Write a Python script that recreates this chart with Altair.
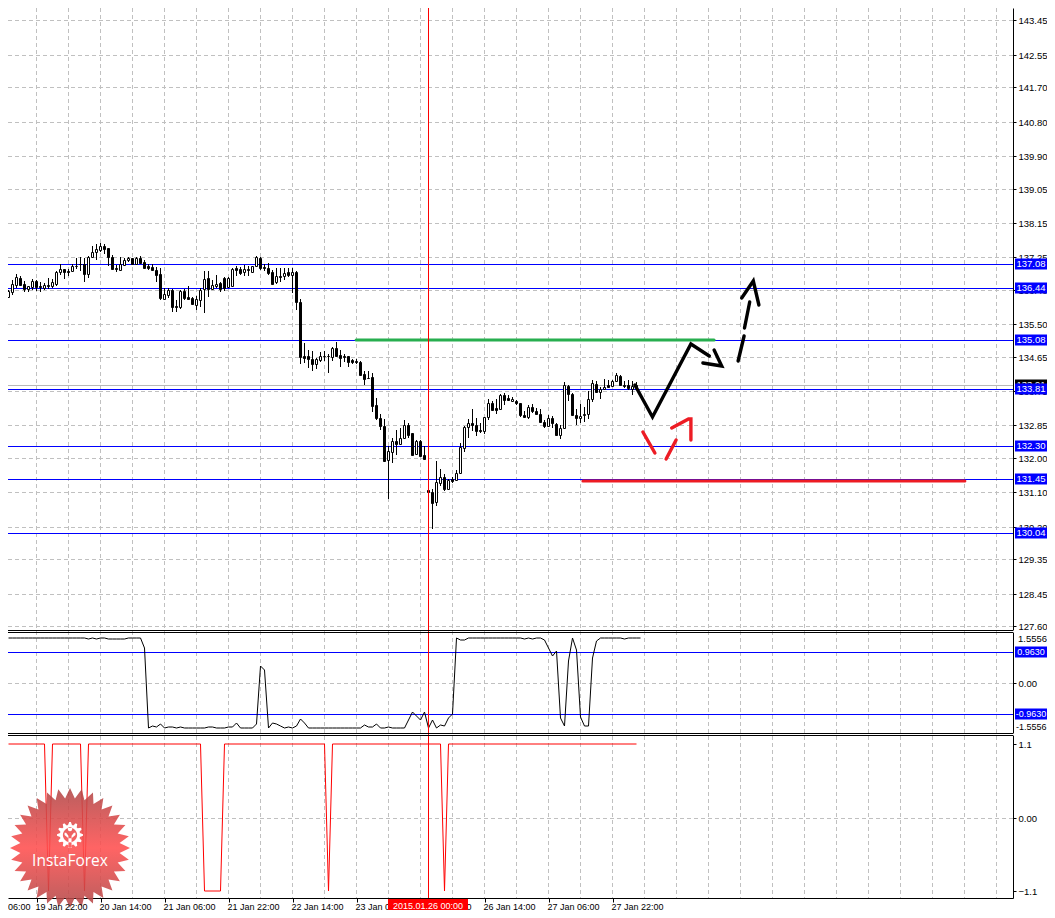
import math
import altair as alt
import pandas as pd

FIRST_BAR = -7
opens = [136.20,136.35,136.53,136.71,136.55,136.42,136.47,136.63,136.51,136.45,136.52,136.49,136.56,136.86,136.94,136.88,136.88,137.03,137.07,137.07,136.82,137.26,137.39,137.43,137.54,137.50,137.27,136.97,136.91,137.05,137.17,137.24,137.08,137.24,137.12,137.03,137.00,136.93,136.82,136.15,136.26,136.40,135.98,135.95,136.38,136.20,136.19,136.01,136.13,136.42,136.71,136.42,136.49,136.58,136.71,136.47,136.51,136.97,136.94,136.86,136.94,136.86,137.02,137.24,137.00,136.98,136.86,136.60,136.77,136.77,136.86,136.79,136.87,136.09,134.66,134.66,134.59,134.46,134.56,134.66,134.68,134.65,134.88,134.70,134.66,134.67,134.55,134.54,134.52,134.19,134.10,134.12,133.39,133.05,132.83,131.95,132.16,132.45,132.36,132.52,132.85,132.66,132.11,132.44,132.07,131.15,131.11,130.85,131.34,131.51,131.18,131.45,131.43,131.61,132.26,132.81,132.92,132.87,132.72,132.70,133.06,133.43,133.30,133.29,133.64,133.56,133.50,133.48,133.43,133.13,133.07,133.34,133.24,133.16,132.94,132.84,133.04,132.90,132.61,132.78,133.88,133.68,133.13,133.05,133.12,133.15,133.55,133.94,133.73,133.81,133.90,133.88,134.01,134.15,133.92,133.90,133.81,133.90]
highs = [136.40,136.66,136.82,136.75,136.62,136.51,136.68,136.65,136.60,136.58,136.71,136.68,136.88,137.07,136.94,136.94,137.07,137.23,137.26,137.23,137.29,137.55,137.60,137.62,137.60,137.50,137.31,137.06,137.26,137.24,137.26,137.24,137.26,137.29,137.18,137.07,137.08,137.00,136.96,136.44,136.44,136.42,136.14,136.40,136.42,136.49,136.20,136.23,136.45,136.88,136.89,136.66,136.80,136.60,136.73,136.73,136.96,137.01,137.00,137.06,137.01,137.03,137.29,137.27,137.08,137.10,136.91,136.97,136.97,136.97,136.97,136.97,136.88,136.16,135.00,134.82,134.79,134.62,134.77,134.80,134.71,134.91,135.04,134.82,134.71,134.68,134.59,134.60,134.54,134.27,134.28,134.23,133.58,133.16,133.03,132.31,132.52,132.72,132.77,132.98,132.92,132.66,132.46,132.47,132.31,131.15,131.18,131.91,131.71,131.57,131.45,131.49,131.69,132.39,132.84,133.03,133.27,133.05,132.92,133.08,133.55,133.49,133.53,133.66,133.71,133.65,133.59,133.52,133.43,133.22,133.38,133.41,133.31,133.27,133.00,133.12,133.10,132.92,132.85,133.99,133.92,133.69,133.27,133.40,133.32,133.75,134.03,134.01,133.86,134.07,134.05,134.05,134.21,134.16,134.01,134.05,134.01,133.99]
lows = [136.18,136.26,136.45,136.49,136.33,136.35,136.40,136.38,136.35,136.40,136.42,136.45,136.51,136.78,136.69,136.75,136.86,136.94,136.88,136.60,136.70,137.22,137.19,137.38,137.34,137.03,136.93,136.87,136.89,137.01,137.13,137.05,137.07,137.08,136.94,136.91,136.88,136.61,136.14,136.14,136.18,135.83,135.81,135.90,136.13,136.16,136.00,135.88,135.95,135.80,136.21,136.39,136.44,136.35,136.37,136.44,136.49,136.77,136.80,136.77,136.77,136.84,137.00,136.93,136.89,136.80,136.52,136.56,136.61,136.65,136.73,136.32,135.88,134.47,134.49,134.36,134.27,134.32,134.51,134.53,134.21,134.53,134.65,134.39,134.52,134.39,134.46,134.45,134.14,133.92,134.06,133.20,133.00,132.73,131.91,130.92,131.86,132.08,132.33,132.51,132.53,132.07,132.09,132.04,131.97,131.12,130.14,130.75,131.27,131.13,131.16,131.34,131.41,131.60,132.16,132.53,132.71,132.58,132.66,132.63,132.99,133.23,133.14,133.27,133.38,133.51,133.46,133.39,133.08,133.05,133.03,133.18,133.12,132.92,132.78,132.82,132.77,132.58,132.49,132.75,133.48,133.12,132.85,132.92,132.94,133.03,133.46,133.69,133.55,133.78,133.83,133.86,133.99,133.88,133.84,133.79,133.64,133.81]
closes = [136.37,136.56,136.73,136.53,136.43,136.49,136.62,136.47,136.46,136.53,136.49,136.61,136.86,136.94,136.87,136.87,137.03,137.01,137.07,136.82,137.26,137.40,137.47,137.54,137.48,137.26,136.94,136.94,137.07,137.17,137.23,137.07,137.23,137.10,136.98,136.96,136.91,136.80,136.18,136.29,136.40,135.96,135.95,136.38,136.18,136.16,136.02,136.16,136.40,136.67,136.42,136.53,136.55,136.42,136.44,136.71,136.94,136.93,136.84,136.94,136.91,137.03,137.26,136.97,136.98,136.84,136.56,136.77,136.73,136.84,136.79,136.86,136.07,134.64,134.61,134.58,134.45,134.58,134.68,134.68,134.66,134.88,134.68,134.61,134.63,134.51,134.52,134.52,134.17,134.06,134.08,133.35,133.04,132.83,131.92,132.17,132.45,132.36,132.53,132.87,132.61,132.08,132.43,132.05,131.98,131.12,130.83,131.38,131.51,131.18,131.42,131.40,131.61,132.28,132.82,132.92,132.86,132.71,132.70,133.08,133.43,133.25,133.25,133.65,133.52,133.52,133.55,133.45,133.12,133.07,133.34,133.22,133.14,132.94,132.84,133.05,132.91,132.61,132.79,133.90,133.67,133.12,133.05,133.10,133.14,133.55,133.97,133.72,133.81,133.86,133.85,134.02,134.16,133.91,133.88,133.82,133.88,133.86]

osc_values = [1.384]*20 + [1.364,1.384,1.364,1.384,1.384,1.353,1.353,1.353,1.353,1.353,1.384,1.384,1.384,1.384,1.086,-1.384,-1.322,-1.353,-1.26,-1.384,-1.374,-1.374,-1.384,-1.353,-1.384,-1.384,-1.384,-1.384,-1.384,-1.384,-1.353,-1.353,-1.384,-1.384,-1.384,-1.363,-1.363,-1.23,-1.384,-1.384,-1.384,-1.384,-1.26,0.52,0.417,-1.384,-1.24,-1.26,-1.343,-1.384,-1.374,-1.384,-1.343,-1.106,-1.24] + [-1.384]*14 + [-1.302,-1.374,-1.374,-1.26,-1.384,-1.384,-1.363,-1.384,-1.384,-1.384,-1.384,-1.147,-0.90,-1.024,-1.157,-0.89,-1.384,-1.157,-1.384,-1.291,-1.333,-1.075,-0.972,1.384,1.343,1.322] + [1.384]*14 + [1.353,1.384,1.353,1.384,1.384,1.343,1.086,0.828,1.003,-1.075,-1.333,0.674,1.384,1.034,-1.055,-1.333,-1.333,0.777,1.312] + [1.384]*6 + [1.364] + [1.384]*4

sig_bars = [-7,2,3,4,11,12,13,41,42,46,47,72,73,74,101,102,103,150]
sig_values = [1.1,1.1,-1.1,1.1,1.1,-1.1,1.1,1.1,-1.1,-1.1,1.1,1.1,-1.1,1.1,1.1,-1.1,1.1,1.1]

price_ticks = [143.45,142.55,141.70,140.80,139.90,139.05,138.15,137.25,136.40,135.50,134.65,133.75,132.85,132.00,131.10,130.20,129.35,128.45,127.60]
levels = [137.08,136.44,135.08,133.81,132.30,131.45,130.04]
bid_line = 133.91
osc_levels = [0.963,-0.963]
x_ticks = [0,16,32,48,64,80,96,112,128,144]
x_labels = ["19 Jan 22:00","20 Jan 14:00","21 Jan 06:00","21 Jan 22:00","22 Jan 14:00","23 Jan 06:00","23 Jan 22:00","26 Jan 14:00","27 Jan 06:00","27 Jan 22:00"]
grid_bars = list(range(0,241,8))
cursor_bar = 98

black_paths = [
    [(149.6,133.92),(154.0,133.08),(163.6,134.99),(168.2,134.66)],
    [(169.4,134.83),(171.3,134.40),(166.6,134.49)],
    [(175.4,134.53),(176.9,135.20)],
    [(177.0,135.40),(178.3,136.09)],
    [(176.3,136.19),(179.2,136.63),(180.6,136.01)],
]
red_paths = [
    [(151.6,132.69),(154.6,132.14)],
    [(157.4,131.96),(159.9,132.48)],
    [(158.8,132.77),(163.0,133.02),(163.6,133.02),(163.6,132.48)],
]
green_seg = [(79.9,135.08),(169.4,135.08)]
red_seg = [(136.6,131.39),(232.1,131.39)]

FONT = "Liberation Sans"
CHART_W, CHART_H = 1039, 902
PLOT_W = 1005
BOX_X = 1023
BOX_W = 32
LABEL_X = 1009
P1_TOP, P1_BOT = 0, 622
P2_TOP, P2_BOT = 624, 725
P3_TOP, P3_BOT = 727, 890
GRID = "#c0c0c0"
BLUE = "#0000ff"
XS = alt.Scale(domain=[-7.125,244.125], range=[0,PLOT_W], nice=False, zero=False, padding=0)
YS1 = alt.Scale(domain=[127.496,143.775], range=[P1_BOT,P1_TOP], nice=False, zero=False, round=True, padding=0)
YS2 = alt.Scale(domain=[-1.553,1.584], range=[P2_BOT,P2_TOP], nice=False, zero=False, round=True, padding=0)
YS3 = alt.Scale(domain=[-1.2096,1.2397], range=[P3_BOT,P3_TOP], nice=False, zero=False, round=True, padding=0)
XA = alt.Axis(values=x_ticks, labels=False, ticks=True, tickSize=4, tickColor="black", grid=False, domain=True,
              domainColor="black", orient="bottom", title=None, offset=P3_BOT-CHART_H)

bars = list(range(FIRST_BAR, FIRST_BAR+len(opens)))
candles = pd.DataFrame({"i":bars,"o":opens,"h":highs,"l":lows,"c":closes})
candles["top"] = candles[["o","c"]].max(axis=1)
candles["bot"] = candles[["o","c"]].min(axis=1)
osc = pd.DataFrame({"i":list(range(FIRST_BAR, FIRST_BAR+len(osc_values))),"v":osc_values})
sig = pd.DataFrame({"i":sig_bars,"v":sig_values})
one = pd.DataFrame({"a":[0]})

def paths_df(paths):
    rows = []
    for s, path in enumerate(paths):
        for n, (b, p) in enumerate(path):
            rows.append({"seg":s,"n":n,"i":b,"p":p})
    return pd.DataFrame(rows)

def X():
    return alt.X("i:Q", scale=XS, axis=XA, title=None)

def Y(field, ys, axis=None):
    return alt.Y(field, scale=ys, axis=axis, title=None)

def y_axis(vals, expr=None):
    kw = dict(values=vals, orient="right", offset=PLOT_W-CHART_W, grid=False, title=None, tickSize=3, tickColor="black",
              domain=True, domainColor="black", labelPadding=2, labelFont=FONT, labelFontSize=9.5, labelColor="black",
              labelOverlap=False, labelFlush=False, labelBound=False)
    if expr:
        kw["labelExpr"] = expr
    else:
        kw["format"] = ".2f"
    return alt.Axis(**kw)

def hrules(vals, ys, color, dash=None, axis=None, width=1):
    kw = dict(color=color, strokeWidth=width, yOffset=0.5)
    if dash:
        kw["strokeDash"] = dash
    return alt.Chart(pd.DataFrame({"v":vals})).mark_rule(**kw).encode(
        x=alt.value(0), x2=alt.value(PLOT_W), y=Y("v:Q", ys, axis))

def sep(y):
    return alt.Chart(one).mark_rule(color="black", strokeWidth=1).encode(
        x=alt.value(0), x2=alt.value(PLOT_W), y=alt.value(y+0.5))

def box(vals, ys, labels, fill, size=9.5):
    d = pd.DataFrame({"v":vals,"t":labels})
    r = alt.Chart(d).mark_rect(width=BOX_W, height=11, fill=fill).encode(x=alt.value(BOX_X), y=Y("v:Q", ys))
    t = alt.Chart(d).mark_text(font=FONT, fontSize=size, color="white", align="center", baseline="middle").encode(
        x=alt.value(BOX_X), y=Y("v:Q", ys), text="t:N")
    return [r, t]

def segs(paths, color, width):
    return alt.Chart(paths_df(paths)).mark_line(color=color, strokeWidth=width, strokeCap="round", strokeJoin="miter").encode(
        x=X(), y=Y("p:Q", YS1), detail="seg:N", order="n:Q")

def note(text, x, y, size=9.5, color="black", align="left", font=FONT):
    return alt.Chart(pd.DataFrame({"t":[text]})).mark_text(font=font, fontSize=size, color=color, align=align, baseline="middle").encode(
        x=alt.value(x), y=alt.value(y), text="t:N")

vgrid = alt.Chart(pd.DataFrame({"i":grid_bars})).mark_rule(color=GRID, strokeWidth=1, strokeDash=[4,3]).encode(
    x=X(), y=alt.value(0), y2=alt.value(P3_BOT))
cursor = alt.Chart(pd.DataFrame({"i":[cursor_bar]})).mark_rule(color="#ff0000", strokeWidth=1).encode(
    x=X(), y=alt.value(0), y2=alt.value(P3_BOT))

# ---- price panel
wick = alt.Chart(candles).mark_rule(color="black", strokeWidth=1, clip=True).encode(
    x=X(), y=Y("l:Q", YS1), y2="h:Q")
body = alt.Chart(candles).mark_bar(size=2, stroke="black", strokeWidth=1, clip=True, yOffset=0.5, y2Offset=0.5).encode(
    x=X(), y=Y("bot:Q", YS1), y2="top:Q",
    fill=alt.condition("datum.c >= datum.o", alt.value("white"), alt.value("black")))
p1_layers = [
    hrules(price_ticks, YS1, GRID, dash=[4,3], axis=y_axis(price_ticks)),
    hrules([bid_line], YS1, "#b8b8b8"), hrules(levels, YS1, BLUE), wick, body,
    segs([green_seg], "#27ae4f", 3),
    segs([red_seg], "#ed1c24", 3),
    segs(black_paths, "black", 3.4),
    segs(red_paths, "#ed1c24", 3.4),
    *box([bid_line], YS1, ["%.2f" % bid_line], "black"),
    *box(levels, YS1, ["%.2f" % v for v in levels], BLUE),
]

# ---- oscillator panel
osc_line = alt.Chart(osc).mark_line(color="black", strokeWidth=1).encode(x=X(), y=Y("v:Q", YS2))
p2_layers = [
    hrules([0.0], YS2, GRID, dash=[4,3], axis=y_axis([0.0])),
    hrules(osc_levels, YS2, BLUE), osc_line,
    note("1.5556", LABEL_X+1, P2_TOP+7), note("-1.5556", LABEL_X-1, P2_TOP+95, size=9),
    *box(osc_levels, YS2, ["0.9630","-0.9630"], BLUE, size=9),
]

# ---- signal panel
sig_line = alt.Chart(sig).mark_line(color="#ff0000", strokeWidth=1).encode(x=X(), y=Y("v:Q", YS3))

def poly(pts):
    return "M" + "L".join("%.4f,%.4f" % p for p in pts) + "Z"

STAR_TIPS = 32
star_pts = []
for k in range(STAR_TIPS*2):
    r = 1.0 if k % 2 == 0 else 0.83
    a = math.pi*k/STAR_TIPS
    star_pts.append((r*math.sin(a), -r*math.cos(a)))
star_shape = poly(star_pts)

gear_pts = []
for k in range(48):
    r = 1.0 if (k % 4) in (0,1) else 0.78
    a = 2*math.pi*(k-0.5)/48
    gear_pts.append((r*math.sin(a), -r*math.cos(a)))
hole = [(0.55*math.sin(-2*math.pi*k/24), -0.55*math.cos(-2*math.pi*k/24)) for k in range(24)]
dot = [(0.17*math.sin(2*math.pi*k/12), -0.45+0.17*math.cos(2*math.pi*k/12)) for k in range(12)]
stem = [(-0.42,-0.18),(-0.30,-0.18),(-0.12,0.05),(-0.12,0.98),(0.12,0.98),(0.12,0.05),(0.30,-0.18),(0.42,-0.18),(0.42,0.0),(0.12,0.25),(-0.12,0.25),(-0.42,0.0)]
gear_shape = poly(gear_pts) + poly(hole) + poly(dot) + poly(stem)

star_grad = alt.Gradient(gradient="linear", x1=0, x2=0, y1=0, y2=1, stops=[
    alt.GradientStop(color="#b04848", offset=0),
    alt.GradientStop(color="#ff4f4f", offset=0.5),
    alt.GradientStop(color="#b04848", offset=1)])
star = alt.Chart(one).mark_point(shape=star_shape, size=14400, filled=True, fill=star_grad, opacity=0.88, strokeWidth=0).encode(
    x=alt.value(62), y=alt.value(P3_TOP+113))
gear = alt.Chart(one).mark_point(shape=gear_shape, size=676, filled=True, fill="white", opacity=1, strokeWidth=0).encode(
    x=alt.value(62), y=alt.value(P3_TOP+100))
date_lab = alt.Chart(pd.DataFrame({"i":x_ticks,"t":x_labels})).mark_text(font=FONT, fontSize=9, color="black", align="left", baseline="middle", dx=-1).encode(
    x=X(), y=alt.value(P3_BOT+8.5), text="t:N")
cur_box = alt.Chart(one).mark_rect(fill="#ff0000", width=80, height=12).encode(x=alt.value(420), y=alt.value(P3_BOT+7))
p3_layers = [
    hrules([0.0], YS3, GRID, dash=[4,3], axis=y_axis([1.1,0.0,-1.1], "datum.value == 0 ? '0.00' : format(datum.value, '.1f')")),
    sig_line, star, gear,
    note("InstaForex", 62, P3_TOP+125.5, size=15.5, color="white", align="center", font="Open Sans"),
    date_lab, note("06:00", 0, P3_BOT+8.5, size=9),
    cur_box, note("2015.01.26 00:00", 420, P3_BOT+7.5, size=9, color="white", align="center"),
]

chart = alt.layer(
    vgrid, *p1_layers, *p2_layers, *p3_layers, cursor,
    sep(P1_BOT), sep(P2_TOP), sep(P2_BOT), sep(P3_TOP),
).resolve_scale(y="independent").properties(
    width=CHART_W, height=CHART_H, padding=0,
    autosize=alt.AutoSizeParams(type="none", contains="padding"),
).configure_view(stroke=None)
chart.save("out.html", embed_options={"renderer":"svg","actions":False})
